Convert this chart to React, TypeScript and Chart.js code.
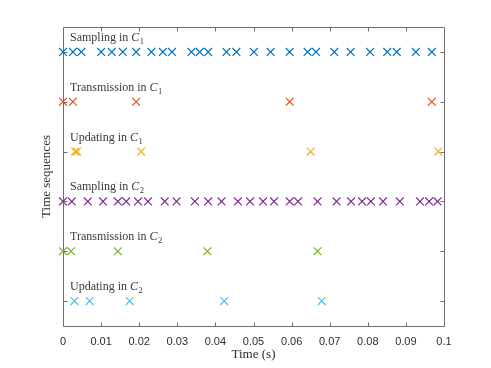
import React, { useEffect, useRef } from 'react';
import { Chart, registerables } from 'chart.js';

Chart.register(...registerables);

// ---- data ----
const xTickValues = [0, 0.01, 0.02, 0.03, 0.04, 0.05, 0.06, 0.07, 0.08, 0.09, 0.1];
const rowNames = ['Sampling', 'Transmission', 'Updating', 'Sampling', 'Transmission', 'Updating'];
const rowSubs = ['1', '1', '1', '2', '2', '2'];
const rowLevels = [6, 5, 4, 3, 2, 1];
const rowColors = ['#0072BD', '#D95319', '#EDB120', '#7E2F8E', '#77AC30', '#4DBEEE'];

const samplingC1 = [0, 0.0026, 0.0048, 0.01, 0.0128, 0.0157, 0.0192, 0.0232, 0.0262, 0.0286, 0.0337, 0.0359, 0.0381, 0.0429, 0.0455, 0.0501, 0.0545, 0.0595, 0.0642, 0.0664, 0.0712, 0.0755, 0.0806, 0.0851, 0.0876, 0.0926, 0.0968];
const transmissionC1 = [0, 0.0026, 0.0192, 0.0595, 0.0968];
const updatingC1 = [0.0032, 0.0037, 0.0205, 0.065, 0.0985];
const samplingC2 = [0, 0.0023, 0.0065, 0.0105, 0.0144, 0.0166, 0.0197, 0.0223, 0.0267, 0.0298, 0.0346, 0.0381, 0.0416, 0.0459, 0.0491, 0.0525, 0.0554, 0.0595, 0.0617, 0.0668, 0.0718, 0.0756, 0.0785, 0.0808, 0.084, 0.0884, 0.0937, 0.0961, 0.0983];
const transmissionC2 = [0, 0.0021, 0.0144, 0.0379, 0.0668];
const updatingC2 = [0.003, 0.007, 0.0175, 0.0423, 0.0679];

const rowSeries = [samplingC1, transmissionC1, updatingC1, samplingC2, transmissionC2, updatingC2];

const AXIS_COLOR = '#6e6e6e';
const TEXT_COLOR = '#2e2e2e';

const framePlugin = {
  id: 'matlabFrame',
  beforeDatasetsDraw(chart: any) {
    const { ctx, chartArea } = chart;
    const xs = chart.scales.x;
    const ys = chart.scales.y;
    const L = Math.round(chartArea.left) + 0.5;
    const R = Math.round(chartArea.right) + 0.5;
    const T = Math.round(chartArea.top) + 0.5;
    const B = Math.round(chartArea.bottom) + 0.5;
    ctx.save();
    ctx.strokeStyle = AXIS_COLOR;
    ctx.lineWidth = 1;
    ctx.beginPath();
    ctx.rect(L, T, R - L, B - T);
    // x ticks (inward, bottom & top)
    xTickValues.forEach((v) => {
      const px = Math.round(xs.getPixelForValue(v)) + 0.5;
      ctx.moveTo(px, B);
      ctx.lineTo(px, B - 4);
      ctx.moveTo(px, T);
      ctx.lineTo(px, T + 4);
    });
    // y ticks (inward, left & right)
    rowLevels.forEach((lv) => {
      const py = Math.round(ys.getPixelForValue(lv)) + 0.5;
      ctx.moveTo(L, py);
      ctx.lineTo(L + 4, py);
      ctx.moveTo(R, py);
      ctx.lineTo(R - 4, py);
    });
    ctx.stroke();

    // row labels
    ctx.fillStyle = '#3a3a3a';
    ctx.textBaseline = 'alphabetic';
    ctx.textAlign = 'left';
    rowLevels.forEach((lv, i) => {
      const x0 = chartArea.left + 7;
      const y0 = ys.getPixelForValue(lv) - 11;
      const main = rowNames[i] + ' in ';
      ctx.font = '12px "Liberation Serif"';
      ctx.fillText(main, x0, y0);
      let w = ctx.measureText(main).width;
      ctx.font = 'italic 12px "Liberation Serif"';
      ctx.fillText('C', x0 + w, y0);
      w += ctx.measureText('C').width;
      ctx.font = '8.5px "Liberation Serif"';
      ctx.fillText(rowSubs[i], x0 + w + 0.5, y0 + 3);
    });

    // axis titles
    ctx.fillStyle = TEXT_COLOR;
    ctx.font = '13px "Liberation Serif"';
    ctx.textAlign = 'center';
    ctx.textBaseline = 'middle';
    ctx.fillText('Time (s)', (chartArea.left + chartArea.right) / 2, 355);
    ctx.save();
    ctx.translate(47, (chartArea.top + chartArea.bottom) / 2);
    ctx.rotate(-Math.PI / 2);
    ctx.fillText('Time sequences', 0, 0);
    ctx.restore();
    ctx.restore();
  },
};

export default function App() {
  const canvasRef = useRef<HTMLCanvasElement | null>(null);

  useEffect(() => {
    if (!canvasRef.current) return;
    const datasets = rowSeries.map((series, i) => ({
      label: rowNames[i] + ' in C' + rowSubs[i],
      data: series.map((t) => ({ x: t, y: rowLevels[i] })),
      pointStyle: 'crossRot',
      pointRadius: 5.5,
      pointHoverRadius: 5.5,
      borderColor: rowColors[i],
      backgroundColor: rowColors[i],
      pointBorderWidth: 1.2,
      borderWidth: 1.2,
      showLine: false,
      clip: false as any,
    }));

    const chart = new Chart(canvasRef.current, {
      type: 'scatter',
      data: { datasets },
      plugins: [framePlugin],
      options: {
        animation: false,
        responsive: false,
        events: [],
        layout: { padding: { top: 27, right: 47, left: 0, bottom: 0 } },
        plugins: { legend: { display: false }, tooltip: { enabled: false } },
        scales: {
          x: {
            type: 'linear',
            min: 0,
            max: 0.1,
            grid: { display: false, drawTicks: false },
            border: { display: false },
            afterFit: (scale: any) => {
              scale.height = 42;
            },
            afterBuildTicks: (scale: any) => {
              scale.ticks = xTickValues.map((v) => ({ value: v }));
            },
            ticks: {
              autoSkip: false,
              maxRotation: 0,
              padding: 9,
              color: TEXT_COLOR,
              font: { family: '"Liberation Sans"', size: 11 },
              callback: (v: any) => String(Number(Number(v).toFixed(2))),
            },
          },
          y: {
            type: 'linear',
            min: 0.5,
            max: 6.5,
            grid: { display: false, drawTicks: false },
            border: { display: false },
            ticks: { display: false },
            afterFit: (scale: any) => {
              scale.width = 63;
            },
          },
        },
      },
    });
    return () => chart.destroy();
  }, []);

  return (
    <div style={{ position: 'fixed', left: 0, top: 0, width: 491, height: 368, background: '#fff' }}>
      <canvas ref={canvasRef} width={491} height={368} style={{ display: 'block' }} />
    </div>
  );
}
